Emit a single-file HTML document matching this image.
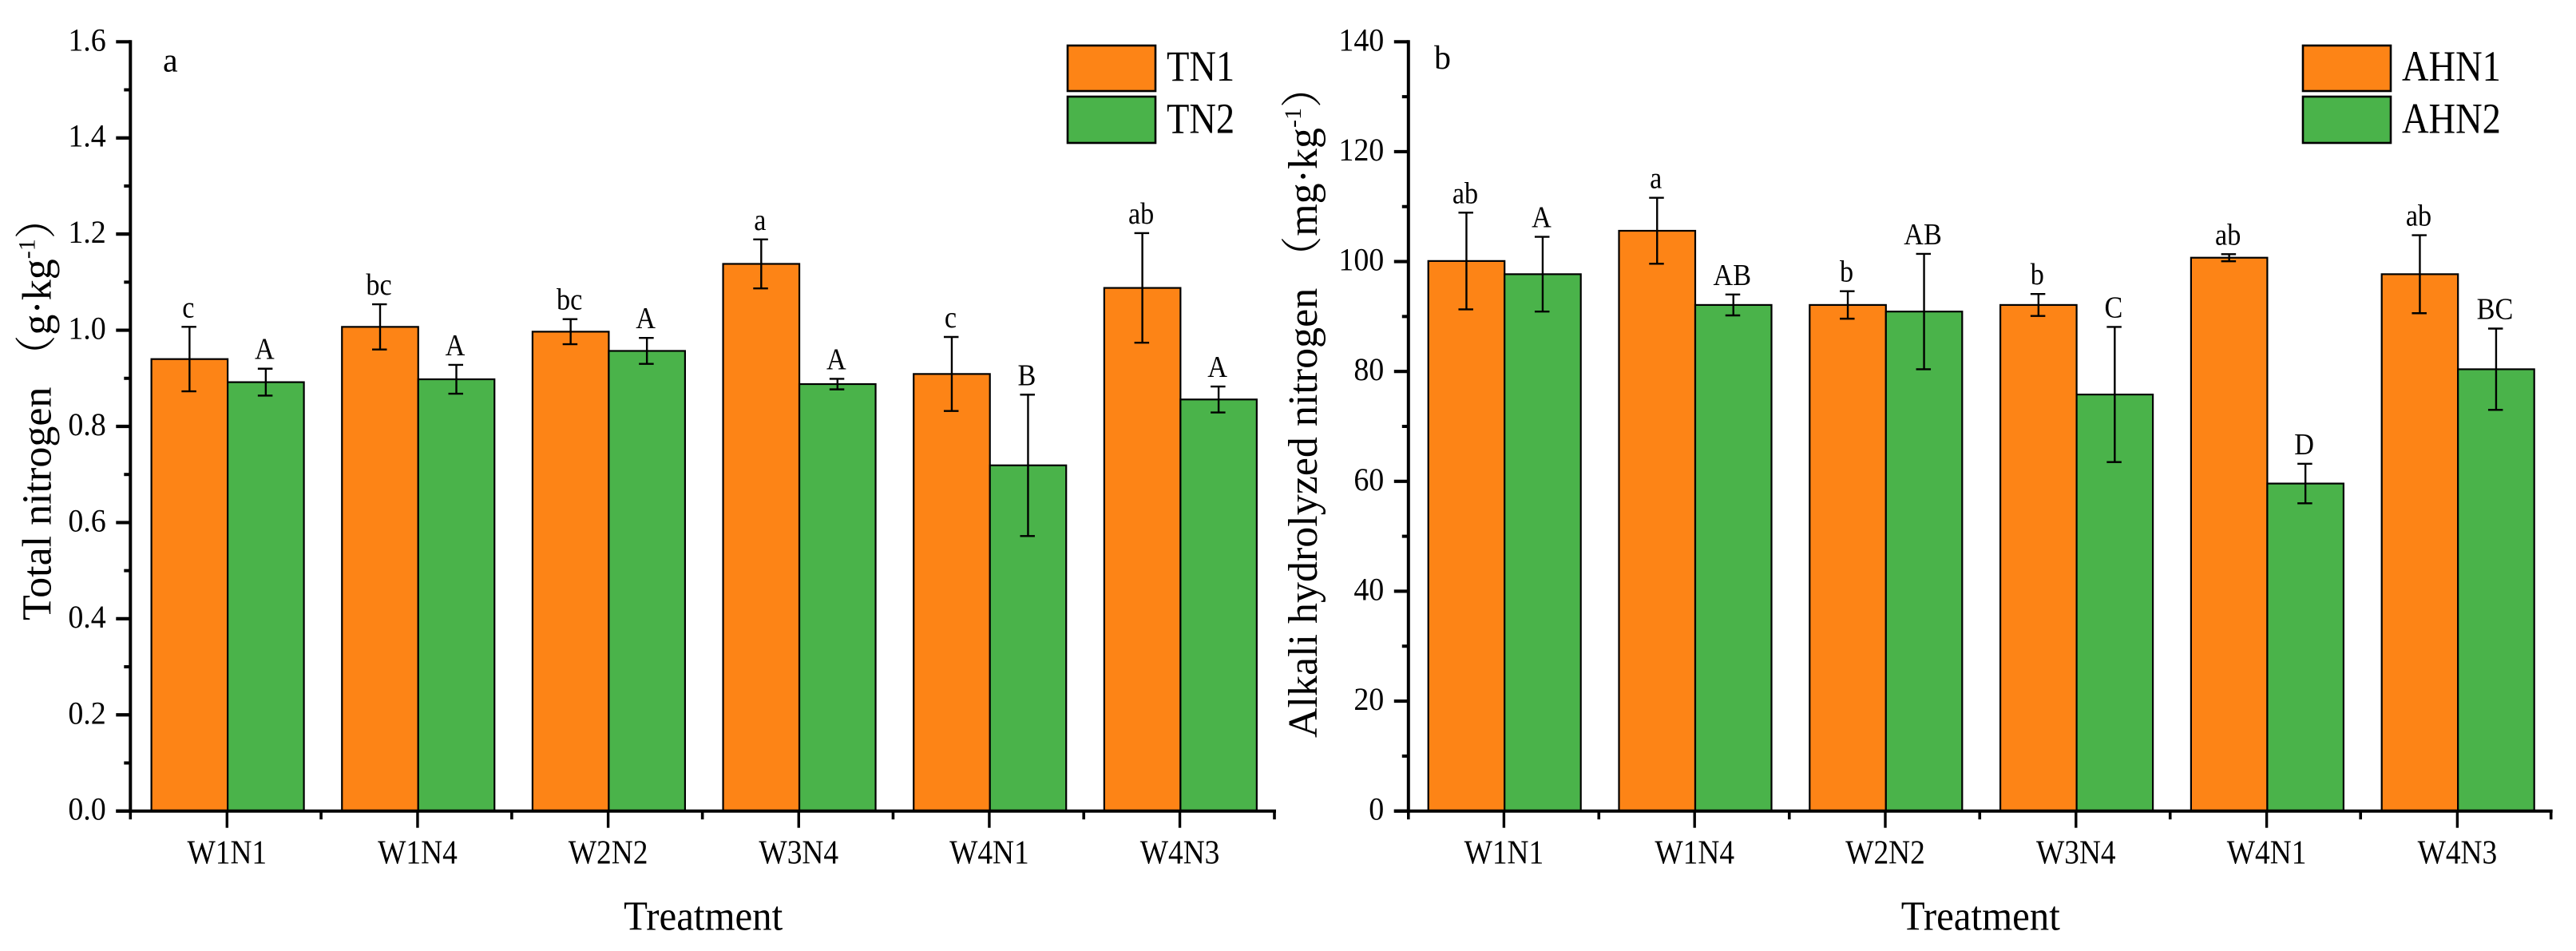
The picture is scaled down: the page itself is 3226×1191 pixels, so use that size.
<!DOCTYPE html>
<html lang="en">
<head>
<meta charset="utf-8">
<title>Total nitrogen and alkali hydrolyzed nitrogen by treatment</title>
<style>
html,body{margin:0;padding:0;background:#fff;}
svg{display:block;}
text{font-family:"Liberation Serif","Noto Serif CJK SC",serif;fill:#000;}
</style>
</head>
<body>
<svg id="chart" xmlns="http://www.w3.org/2000/svg" width="3226" height="1191" viewBox="0 0 3226 1191"></svg>
<script>
const categories = ['W1N1', 'W1N4', 'W2N2', 'W3N4', 'W4N1', 'W4N3'];

const tn1Values = [0.94, 1.007, 0.997, 1.138, 0.909, 1.088];
const tn2Values = [0.892, 0.898, 0.957, 0.888, 0.719, 0.856];
const tn1Errors = [0.067, 0.047, 0.026, 0.051, 0.077, 0.114];
const tn2Errors = [0.028, 0.03, 0.027, 0.011, 0.147, 0.027];
const tn1Letters = ['c', 'bc', 'bc', 'a', 'c', 'ab'];
const tn2Letters = ['A', 'A', 'A', 'A', 'B', 'A'];
const tnTicks = ['0.0', '0.2', '0.4', '0.6', '0.8', '1.0', '1.2', '1.4', '1.6'];

const ahn1Values = [100.1, 105.6, 92.1, 92.1, 100.7, 97.7];
const ahn2Values = [97.7, 92.1, 90.9, 75.8, 59.6, 80.4];
const ahn1Errors = [8.8, 6, 2.5, 2, 0.65, 7.1];
const ahn2Errors = [6.8, 1.9, 10.5, 12.3, 3.6, 7.4];
const ahn1Letters = ['ab', 'a', 'b', 'b', 'ab', 'ab'];
const ahn2Letters = ['A', 'AB', 'AB', 'C', 'D', 'BC'];
const ahnTicks = ['0', '20', '40', '60', '80', '100', '120', '140'];

const ORANGE = '#FD8416';
const GREEN = '#4AB34A';
const svg = document.getElementById('chart');
const NS = 'http://www.w3.org/2000/svg';

function make(parent, tag, attrs) {
  const el = document.createElementNS(NS, tag);
  for (const k in attrs) el.setAttribute(k, attrs[k]);
  parent.appendChild(el);
  return el;
}
function line(parent, x1, y1, x2, y2, w) {
  return make(parent, 'line', {x1: x1, y1: y1, x2: x2, y2: y2, stroke: '#000', 'stroke-width': w});
}
function label(parent, x, y, str, size, sx, anchor) {
  const t = make(parent, 'text', {
    transform: 'translate(' + x + ',' + y + ') scale(' + sx + ',1)',
    'font-size': size,
    'text-anchor': anchor
  });
  t.textContent = str;
  return t;
}

function drawPanel(p) {
  const g = make(svg, 'g', {});
  
  

  const bottom = 1015.7, top = 52.3;
  const yScale = function (v) { return bottom - (v / p.yMax) * (bottom - top); };
  const catW = p.width / categories.length;
  const xCenter = function (i) { return p.firstCenter + p.step * i; };
  const barW = 95.5;

  [[p.v1, ORANGE, -1, 'first'], [p.v2, GREEN, 0, 'second']].forEach(function (s) {
    s[0].forEach(function (v, i) {
      const x = xCenter(i) + s[2] * barW;
      const bar = make(g, 'rect', {
        x: x, y: yScale(v), width: barW, height: bottom - yScale(v),
        fill: s[1], stroke: '#000', 'stroke-width': 2.2
      });
      
      
    });
  });

  [[p.v1, p.e1, p.l1, -0.5, 'first'], [p.v2, p.e2, p.l2, 0.5, 'second']].forEach(function (s) {
    s[0].forEach(function (v, i) {
      const cx = xCenter(i) + s[3] * barW;
      const yHi = yScale(v + s[1][i]);
      const yLo = yScale(v - s[1][i]);
      const eb = make(g, 'g', {});
      
      
      line(eb, cx, yHi, cx, yLo, 2.4);
      line(eb, cx - 10, yHi, cx + 8.5, yHi, 2.4);
      line(eb, cx - 10, yLo, cx + 8.5, yLo, 2.4);
      const t = label(g, cx - 1.5, yHi - 12, s[2][i], 38, 0.9, 'middle');
      
      
    });
  });

  const axes = make(g, 'g', {});
  
  
  line(axes, p.left, top - 2, p.left, bottom + 2, 4);
  line(axes, p.left - 18, bottom, p.left + p.width + 2, bottom, 4);

  p.ticks.forEach(function (tick, i) {
    const v = parseFloat(tick);
    const y = yScale(v);
    line(axes, p.left - 18, y, p.left, y, 4.2);
    const t = label(axes, p.left - 30.5, y + 11, tick, 40, 0.95, 'end');
    
    
    if (i < p.ticks.length - 1) {
      const ym = yScale((v + parseFloat(p.ticks[i + 1])) / 2);
      line(axes, p.left - 8, ym, p.left, ym, 4);
    }
  });

  categories.forEach(function (c, i) {
    const x = xCenter(i) - 0.8;
    line(axes, x, bottom, x, bottom + 21, 3.4);
    line(axes, p.left + catW * i, bottom, p.left + catW * i, bottom + 10.5, 3.6);
    const t = label(axes, x, 1081.5, c, 42, 0.89, 'middle');
    
    
  });
  line(axes, p.left + p.width, bottom, p.left + p.width, bottom + 10.5, 3.6);

  const xt = label(g, p.left + p.width / 2 + 1, 1164.5, 'Treatment', 52, 0.94, 'middle');
  
  

  const yt = make(g, 'text', {
    transform: 'translate(' + p.titleX + ',' + p.titleY + ') rotate(-90)',
    'font-size': 52
  });
  
  
  const a = make(yt, 'tspan', {});
  a.textContent = p.title;
  const b = make(yt, 'tspan', {'font-size': 30, dy: -20});
  b.textContent = '-1';
  const c = make(yt, 'tspan', {dy: 20});
  c.textContent = '）';

  const pl = label(g, p.letterX, p.letterY, p.letter, 42, 1, 'start');
  
  

  const names = p.names;
  const colors = [ORANGE, GREEN];
  const boxY = [57, 121];
  const boxH = [57, 58];
  const textY = [101, 166.5];
  names.forEach(function (n, i) {
    const swatch = make(g, 'rect', {
      x: p.legX, y: boxY[i], width: p.legW, height: boxH[i],
      fill: colors[i], stroke: '#000', 'stroke-width': 2.6
    });
    
    
    const t = label(g, p.legX + p.legW + 14, textY[i], n, 54, 0.86, 'start');
    
    
  });
}

drawPanel({
  id: 'total-nitrogen', left: 163.3, width: 1432.7, firstCenter: 285.1, step: 238.65, yMax: 1.6, ticks: tnTicks,
  v1: tn1Values, v2: tn2Values, e1: tn1Errors, e2: tn2Errors, l1: tn1Letters, l2: tn2Letters,
  title: 'Total nitrogen （g·kg', titleX: 63.5, titleY: 777,
  letter: 'a', letterX: 204, letterY: 89.3,
  names: ['TN1', 'TN2'], legX: 1337, legW: 110
});
drawPanel({
  id: 'alkali-hydrolyzed-nitrogen', left: 1763.8, width: 1430.9, firstCenter: 1884.2, step: 238.8, yMax: 140, ticks: ahnTicks,
  v1: ahn1Values, v2: ahn2Values, e1: ahn1Errors, e2: ahn2Errors, l1: ahn1Letters, l2: ahn2Letters,
  title: 'Alkali hydrolyzed nitrogen （mg·kg', titleX: 1649, titleY: 924,
  letter: 'b', letterX: 1796, letterY: 86,
  names: ['AHN1', 'AHN2'], legX: 2884, legW: 110
});
</script>
</body>
</html>
